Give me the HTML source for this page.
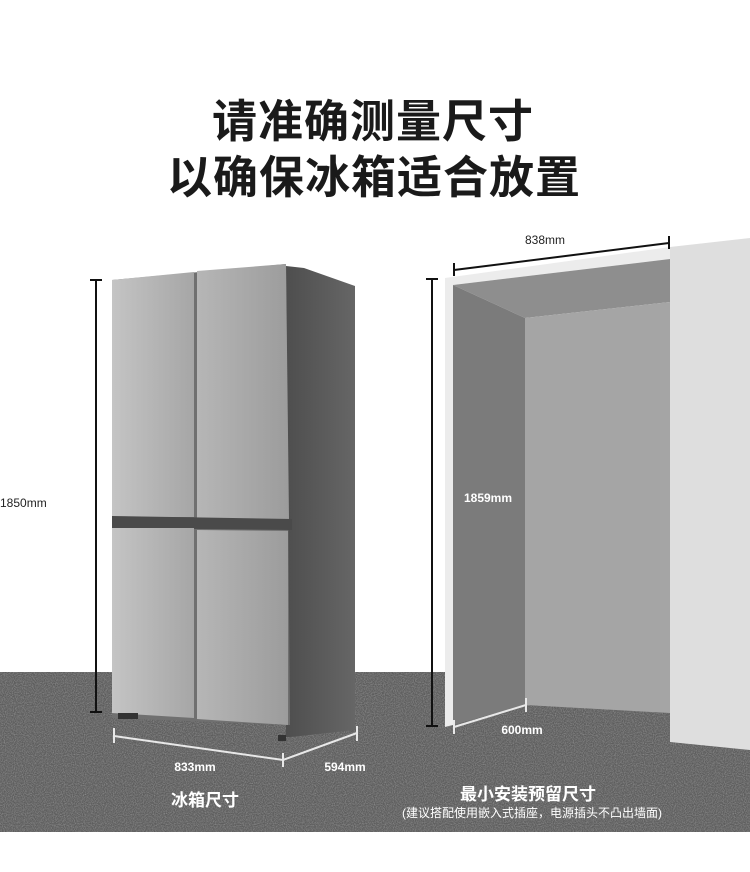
<!DOCTYPE html>
<html><head><meta charset="utf-8"><style>
html,body{margin:0;padding:0;background:#fff;width:750px;height:872px;overflow:hidden}
svg{display:block}
text{font-family:"Liberation Sans","Noto Sans CJK SC",sans-serif}
</style></head><body>
<svg width="750" height="872" viewBox="0 0 750 872" xmlns="http://www.w3.org/2000/svg">
<defs>
<filter id="noise" x="0" y="0" width="100%" height="100%">
<feTurbulence type="fractalNoise" baseFrequency="0.9" numOctaves="2" seed="3"/>
<feColorMatrix type="matrix" values="0 0 0 0 0.36  0 0 0 0 0.36  0 0 0 0 0.36  0 0 0 1.6 -0.55"/>
</filter>
<linearGradient id="door" x1="0" x2="1" y1="0" y2="0">
<stop offset="0" stop-color="#c4c4c4"/><stop offset="1" stop-color="#a6a6a6"/>
</linearGradient>
<linearGradient id="door2" x1="0" x2="1" y1="0" y2="0">
<stop offset="0" stop-color="#b6b6b6"/><stop offset="1" stop-color="#9c9c9c"/>
</linearGradient>
<linearGradient id="side" x1="0" x2="1" y1="0" y2="0">
<stop offset="0" stop-color="#4e4e4e"/><stop offset="1" stop-color="#666"/>
</linearGradient>
</defs>
<text x="373" y="137" font-size="45" font-weight="bold" text-anchor="middle" fill="#1a1a1a" letter-spacing="1">请准确测量尺寸</text>
<text x="374" y="193" font-size="45" font-weight="bold" text-anchor="middle" fill="#1a1a1a" letter-spacing="1">以确保冰箱适合放置</text>
<rect x="0" y="672" width="750" height="160" fill="#5d5d5d"/>
<rect x="0" y="672" width="750" height="160" filter="url(#noise)" opacity="0.8"/>
<!-- fridge -->
<polygon points="286,266 304,268 355,286 355,730 290,737 286,737" fill="url(#side)"/>
<polygon points="112,280 286,264 290,725 112,718" fill="#707070"/>
<polygon points="112,280 194,272 194,517 112,517" fill="url(#door)"/>
<polygon points="197,271 286,264 289,520 197,518" fill="url(#door2)"/>
<polygon points="112,516 292,519 292,530 112,528" fill="#4a4a4a"/>
<polygon points="112,528 194,528 194,718 112,713" fill="url(#door)"/>
<polygon points="197,530 288,531 288,725 197,719" fill="url(#door2)"/>
<rect x="118" y="713" width="20" height="6" fill="#333"/>
<rect x="278" y="735" width="8" height="6" fill="#333"/>
<g stroke="#111" stroke-width="2">
<line x1="96" y1="280" x2="96" y2="712"/>
<line x1="90" y1="280" x2="102" y2="280"/>
<line x1="90" y1="712" x2="102" y2="712"/>
</g>
<text x="0" y="507" font-size="12" fill="#222">1850mm</text>
<g stroke="#e8e8e8" stroke-width="2" fill="none">
<polyline points="114,736 283,760 357,733"/>
<line x1="114" y1="728" x2="114" y2="743"/>
<line x1="283" y1="753" x2="283" y2="767"/>
<line x1="357" y1="726" x2="357" y2="741"/>
</g>
<text x="195" y="771" font-size="12" font-weight="bold" fill="#fff" text-anchor="middle">833mm</text>
<text x="345" y="771" font-size="12" font-weight="bold" fill="#fff" text-anchor="middle">594mm</text>
<text x="205" y="806" font-size="17" font-weight="bold" fill="#fff" text-anchor="middle">冰箱尺寸</text>
<!-- cabinet -->
<polygon points="670,247 750,238 750,750 670,742" fill="#dedede"/>
<polygon points="445,278 670,247 670,259 453,285 453,725 445,727" fill="#ececec"/>
<polygon points="453,285 670,259 670,302 525,318" fill="#8e8e8e"/>
<polygon points="525,318 670,302 670,713 525,705" fill="#a5a5a5"/>
<polygon points="453,285 525,318 525,705 453,725" fill="#7b7b7b"/>
<g stroke="#111" stroke-width="2">
<line x1="432" y1="279" x2="432" y2="726"/>
<line x1="426" y1="279" x2="438" y2="279"/>
<line x1="426" y1="726" x2="438" y2="726"/>
<line x1="454" y1="270" x2="669" y2="243"/>
<line x1="454" y1="263" x2="454" y2="276"/>
<line x1="669" y1="236" x2="669" y2="249"/>
</g>
<text x="545" y="244" font-size="12" fill="#222" text-anchor="middle">838mm</text>
<text x="488" y="502" font-size="12" font-weight="bold" fill="#fff" text-anchor="middle">1859mm</text>
<g stroke="#e8e8e8" stroke-width="2">
<line x1="454" y1="727" x2="526" y2="705"/>
<line x1="454" y1="720" x2="454" y2="734"/>
<line x1="526" y1="698" x2="526" y2="712"/>
</g>
<text x="522" y="734" font-size="12" font-weight="bold" fill="#fff" text-anchor="middle">600mm</text>
<text x="528" y="800" font-size="17" font-weight="bold" fill="#fff" text-anchor="middle">最小安装预留尺寸</text>
<text x="532" y="817" font-size="12" fill="#fff" text-anchor="middle">(建议搭配使用嵌入式插座，电源插头不凸出墙面)</text>
</svg>
</body></html>
